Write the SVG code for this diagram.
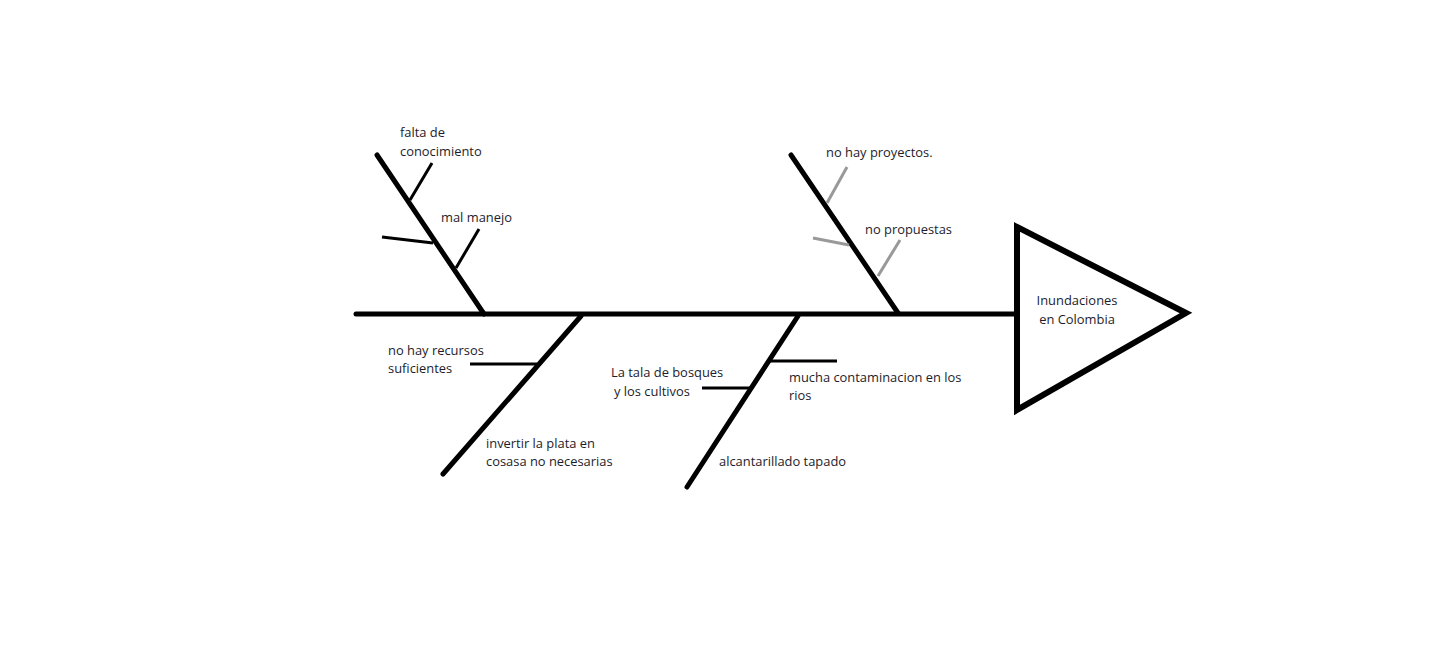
<svg xmlns="http://www.w3.org/2000/svg" width="1434" height="657" viewBox="0 0 1434 657">
<style>
.bone{stroke:#000;stroke-width:5;stroke-linecap:round;fill:none}
.sub{stroke:#000;stroke-width:3;fill:none}
.gray{stroke:#999;stroke-width:3;fill:none}
text{font-family:"Open Sans","Noto Sans","Liberation Sans",sans-serif;font-size:12.9px;fill:#1c1c2c}
</style>
<rect width="1434" height="657" fill="#fff"/>
<g id="connectors">
<line class="bone" x1="356" y1="314" x2="1017" y2="314"/>
<line class="bone" x1="377" y1="155" x2="484" y2="314"/>
<line class="bone" x1="791" y1="155" x2="898" y2="313"/>
<line class="bone" x1="581" y1="316" x2="443" y2="474"/>
<line class="bone" x1="798" y1="316" x2="687" y2="487"/>
<line class="sub" x1="432" y1="163" x2="410" y2="200"/>
<line class="sub" x1="382" y1="237" x2="433" y2="243"/>
<line class="sub" x1="479" y1="229" x2="456" y2="268"/>
<line class="gray" x1="847" y1="167" x2="827" y2="203"/>
<line class="gray" x1="813" y1="238" x2="849" y2="245"/>
<line class="gray" x1="900" y1="240" x2="878" y2="276"/>
<line class="sub" x1="470" y1="364" x2="537" y2="364"/>
<line class="sub" x1="768" y1="361" x2="837" y2="361"/>
<line class="sub" x1="702" y1="388" x2="750" y2="388"/>
</g>
<g id="effect">
<polygon points="1017,227 1186,313 1017,410" fill="#fff" stroke="#000" stroke-width="6" stroke-linejoin="miter"/>
<text x="1077" y="305" text-anchor="middle">Inundaciones</text>
<text x="1077" y="324" text-anchor="middle">en Colombia</text>
</g>
<g id="cause-falta"><text x="400" y="137">falta de</text><text x="400" y="156">conocimiento</text></g>
<g id="cause-mal"><text x="441" y="222">mal manejo</text></g>
<g id="cause-proyectos"><text x="826" y="157">no hay proyectos.</text></g>
<g id="cause-propuestas"><text x="865" y="234">no propuestas</text></g>
<g id="cause-recursos"><text x="388" y="355">no hay recursos</text><text x="388" y="373">suficientes</text></g>
<g id="cause-invertir"><text x="486" y="448">invertir la plata en</text><text x="486" y="466">cosasa no necesarias</text></g>
<g id="cause-tala"><text x="611" y="377">La tala de bosques</text><text x="614" y="396"> y los cultivos</text></g>
<g id="cause-contaminacion"><text x="789" y="382">mucha contaminacion en los</text><text x="789" y="400">rios</text></g>
<g id="cause-alcantarillado"><text x="719" y="466">alcantarillado tapado</text></g>
</svg>
